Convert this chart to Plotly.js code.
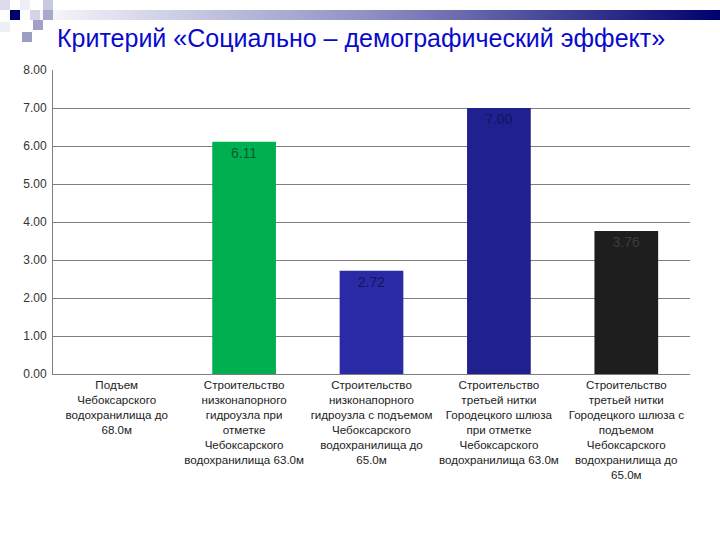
<!DOCTYPE html>
<html>
<head>
<meta charset="utf-8">
<script src="https://cdn.plot.ly/plotly-3.0.1.min.js"></script>
<style>html,body{margin:0;padding:0;background:#fff;}#chart{width:720px;height:540px;}</style>
</head>
<body>
<div id="chart"></div>
<script>
const categories = [
  "Подъем<br>Чебоксарского<br>водохранилища до<br>68.0м",
  "Строительство<br>низконапорного<br>гидроузла при<br>отметке<br>Чебоксарского<br>водохранилища 63.0м",
  "Строительство<br>низконапорного<br>гидроузла с подъемом<br>Чебоксарского<br>водохранилища до<br>65.0м",
  "Строительство<br>третьей нитки<br>Городецкого шлюза<br>при отметке<br>Чебоксарского<br>водохранилища 63.0м",
  "Строительство<br>третьей нитки<br>Городецкого шлюза с<br>подъемом<br>Чебоксарского<br>водохранилища до<br>65.0м"
];
const values = [0, 6.11, 2.72, 7.00, 3.76];
const barColors = ["#ffffff", "#00b050", "#2a2aa6", "#20208f", "#1e1e1e"];
const labelColors = ["#000000", "#0b5c2c", "#15155e", "#151560", "#3c3c3c"];
const titleText = "Критерий «Социально – демографический эффект»";

const gradSvg = '<svg xmlns="http://www.w3.org/2000/svg" width="700" height="10" preserveAspectRatio="none"><defs><linearGradient id="g" x1="0" x2="1" y1="0" y2="0"><stop offset="0" stop-color="#ffffff"/><stop offset="0.5" stop-color="#8f8fc4"/><stop offset="1" stop-color="#00006e"/></linearGradient></defs><rect width="700" height="10" fill="url(#g)"/></svg>';
const gradUri = 'data:image/svg+xml;base64,' + btoa(gradSvg);

function sq(x, y, c) {
  return {type: 'rect', xref: 'paper', yref: 'paper', layer: 'above',
    x0: (x - 53) / 637, x1: (x + 10 - 53) / 637,
    y0: (374 - (y + 10)) / 304, y1: (374 - y) / 304,
    fillcolor: c, line: {width: 0}};
}

const trace = {
  type: 'bar',
  x: categories,
  y: values,
  width: 0.5,
  marker: {color: barColors, line: {width: 0}},
  text: values.map((v, i) => i === 0 ? '' : v.toFixed(2)),
  textposition: 'inside',
  insidetextanchor: 'end',
  textangle: 0,
  textfont: {family: 'Liberation Sans, Arial, sans-serif', size: 14, color: labelColors},
  cliponaxis: false,
  hoverinfo: 'none'
};

const layout = {
  width: 720, height: 540,
  margin: {l: 53, r: 30, t: 70, b: 166},
  paper_bgcolor: '#ffffff', plot_bgcolor: '#ffffff',
  showlegend: false,
  bargap: 0.5,
  font: {family: 'Liberation Sans, Arial, sans-serif', color: '#222'},
  title: {
    text: titleText,
    font: {family: 'Liberation Sans, Arial, sans-serif', size: 25, color: '#0a0acc'},
    x: 57 / 720, xanchor: 'left', xref: 'container',
    y: 1 - 29 / 540, yanchor: 'top', yref: 'container'
  },
  xaxis: {
    type: 'category',
    showgrid: false,
    showline: true, linecolor: '#808080', linewidth: 1,
    ticks: '',
    tickangle: 0,
    tickfont: {size: 11.6, color: '#222'},
    automargin: false
  },
  yaxis: {
    range: [0, 8], dtick: 1, tickformat: '.2f',
    showgrid: true, gridcolor: '#808080', gridwidth: 1,
    showline: true, linecolor: '#808080', linewidth: 1,
    zeroline: false,
    ticks: '',
    ticklabelstandoff: 3,
    tickfont: {size: 12, color: '#333'},
    automargin: false
  },
  images: [{
    source: gradUri, xref: 'paper', yref: 'paper',
    x: (20 - 53) / 637, y: (374 - 10) / 304,
    sizex: 700 / 637, sizey: 10 / 304,
    sizing: 'stretch', xanchor: 'left', yanchor: 'top', layer: 'below'
  }],
  shapes: [
    sq(0, 0, '#dcdcec'),
    sq(10, 10, '#00006e'),
    sq(30, 10, '#d4d4e6'),
    sq(43, 0, '#c8c8e0'),
    sq(43, 10, '#a8a8cc'),
    sq(33, 20, '#a0a0c8'),
    sq(22, 32, '#9c9cc4'),
    sq(0, 22, '#eeeef6'),
    sq(20, 0, '#eeeef4')
  ]
};

Plotly.newPlot('chart', [trace], layout, {displayModeBar: false, staticPlot: true});
</script>
</body>
</html>
